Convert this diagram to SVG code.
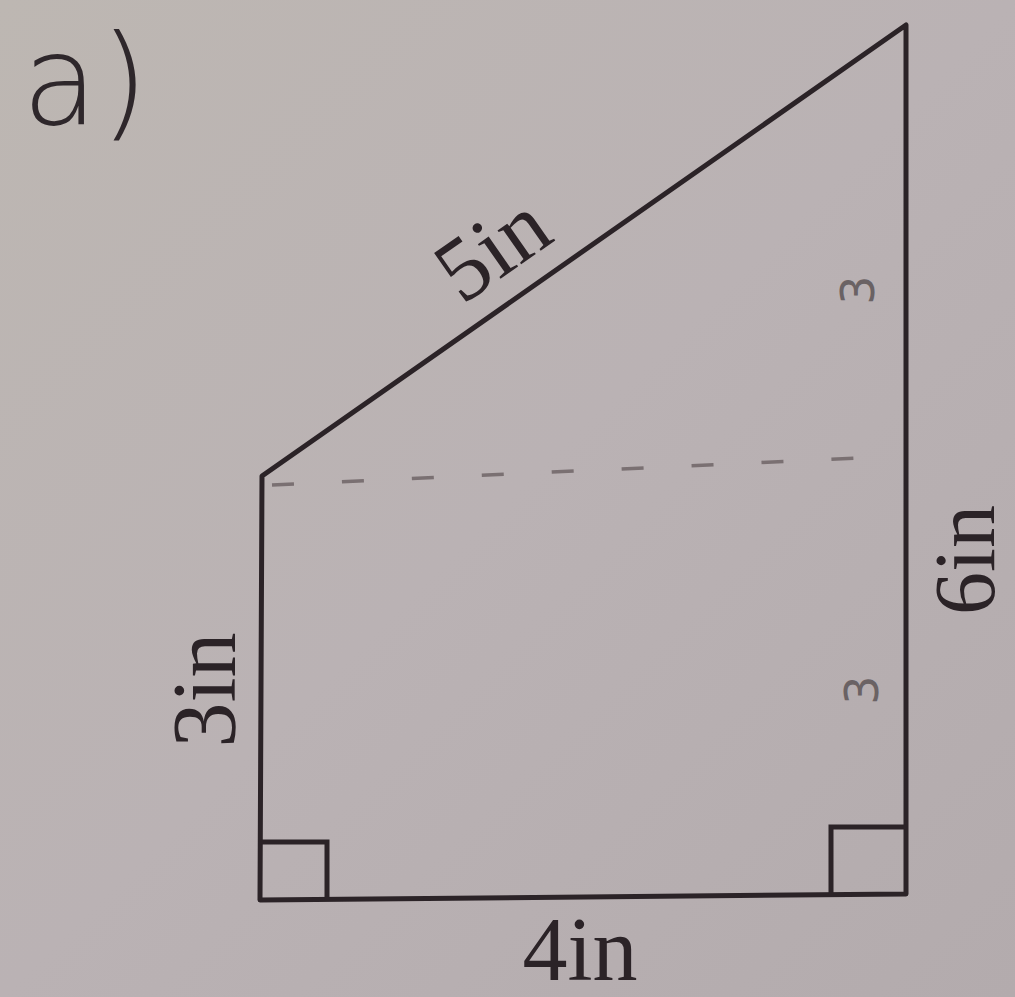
<svg xmlns="http://www.w3.org/2000/svg" width="1015" height="997" viewBox="0 0 1015 997">
  <style>
    .edge { fill: none; stroke: #2b2327; stroke-width: 5; stroke-linejoin: round; }
    .box { fill: none; stroke: #2b2327; stroke-width: 5; }
    .dash { fill: none; stroke: #7a7072; stroke-width: 3.5; stroke-dasharray: 22 48; }
    .lbl { font-family: "Liberation Serif", serif; font-size: 90px; fill: #2b2327; text-anchor: middle; }
    .hand { font-family: "DejaVu Sans", sans-serif; font-size: 46px; fill: #6a6264; text-anchor: middle; }
  </style>
  <defs>
    <linearGradient id="bg" x1="0" y1="0" x2="1" y2="1">
      <stop offset="0" stop-color="#bdb7b2"/>
      <stop offset="0.5" stop-color="#bab2b4"/>
      <stop offset="1" stop-color="#b3abad"/>
    </linearGradient>
  </defs>
  <rect width="1015" height="997" fill="url(#bg)"/>

  <g id="title">
    <text x="22" y="124" style="font-family:'DejaVu Sans',sans-serif;font-size:124px;fill:#2e272b;font-weight:300;letter-spacing:2px">a)</text>
  </g>

  <g id="connectors">
    <path class="dash" d="M272 485 L880 457"/>
  </g>

  <g id="shape">
    <path class="edge" d="M262 476 L906 25 L906 894 L260 900 Z"/>
  </g>

  <g id="right-angle-left">
    <path class="box" d="M260 842 L327 842 L327 900"/>
  </g>
  <g id="right-angle-right">
    <path class="box" d="M831 894 L831 827 L906 827"/>
  </g>

  <g id="label-5in">
    <text class="lbl" transform="translate(492,248) rotate(-35)" x="0" y="30">5in</text>
  </g>
  <g id="label-6in">
    <text class="lbl" style="font-size:86px" transform="translate(966,560) rotate(-90)" x="0" y="28">6in</text>
  </g>
  <g id="label-3in">
    <text class="lbl" transform="translate(205,690) rotate(-90)" x="0" y="30">3in</text>
  </g>
  <g id="label-4in">
    <text class="lbl" x="580" y="980">4in</text>
  </g>
  <g id="mark-top">
    <text class="hand" transform="translate(858,290) rotate(-90)" x="0" y="16">3</text>
  </g>
  <g id="mark-bottom">
    <text class="hand" transform="translate(862,690) rotate(-90)" x="0" y="16">3</text>
  </g>
</svg>
